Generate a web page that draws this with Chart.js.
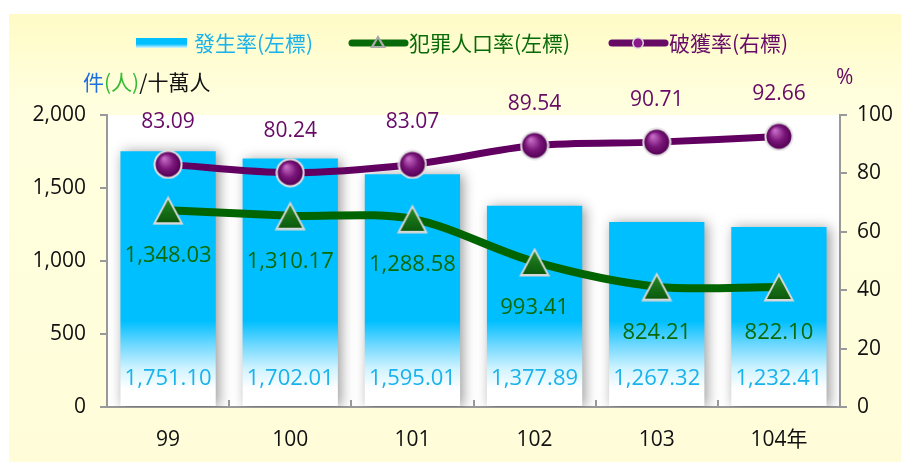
<!DOCTYPE html>
<html>
<head>
<meta charset="utf-8">
<script src="https://cdn.jsdelivr.net/npm/chart.js@4.4.1/dist/chart.umd.min.js"></script>
<style>
  html, body { margin: 0; padding: 0; background: #fff; }
  #wrap { position: relative; width: 901px; height: 462px; }
</style>
</head>
<body>
<div id="wrap"><canvas id="crime-chart" width="901" height="462"></canvas></div>
<script>
  // 資料
  const years = ['99', '100', '101', '102', '103', '104年'];
  const occurrenceRate = [1751.10, 1702.01, 1595.01, 1377.89, 1267.32, 1232.41]; // 發生率(左標)
  const offenderRate = [1348.03, 1310.17, 1288.58, 993.41, 824.21, 822.10];     // 犯罪人口率(左標)
  const clearanceRate = [83.09, 80.24, 83.07, 89.54, 90.71, 92.66];             // 破獲率(右標)
  const leftTicks = [0, 500, 1000, 1500, 2000];
  const rightTicks = [0, 20, 40, 60, 80, 100];

  const FONT = '"Open Sans", "Noto Sans CJK TC", sans-serif';
  const CJK = '"Noto Sans CJK TC", "Open Sans", sans-serif';
  const BLUE_TXT = '#19b2ea';
  const GREEN = '#086a08';
  const PURPLE = '#660a66';

  const fmt = (v) => v.toLocaleString('en-US', { minimumFractionDigits: 2, maximumFractionDigits: 2 });

  // 點的圖樣
  function makeTriangle() {
    const c = document.createElement('canvas');
    c.width = 32; c.height = 30;
    const g = c.getContext('2d');
    g.fillStyle = '#d8d8d8';
    g.beginPath(); g.moveTo(16, 0.5); g.lineTo(31.5, 29.5); g.lineTo(0.5, 29.5); g.closePath(); g.fill();
    const gr = g.createLinearGradient(0, 4, 0, 27);
    gr.addColorStop(0, '#2a8a2a');
    gr.addColorStop(0.55, '#166e16');
    gr.addColorStop(1, '#0d5a0d');
    g.fillStyle = gr;
    g.beginPath(); g.moveTo(16, 4.5); g.lineTo(28, 27); g.lineTo(4, 27); g.closePath(); g.fill();
    return c;
  }

  function makeCircle() {
    const c = document.createElement('canvas');
    c.width = 30; c.height = 30;
    const g = c.getContext('2d');
    g.fillStyle = '#e2e2e2';
    g.beginPath(); g.arc(15, 15, 14.5, 0, Math.PI * 2); g.fill();
    const gr = g.createRadialGradient(11, 9, 1, 15, 15, 13);
    gr.addColorStop(0, '#c46ac4');
    gr.addColorStop(0.55, '#7a167a');
    gr.addColorStop(1, '#520052');
    g.fillStyle = gr;
    g.beginPath(); g.arc(15, 15, 12.5, 0, Math.PI * 2); g.fill();
    return c;
  }

  function barGradient(ctx) {
    const area = ctx.chart.chartArea;
    if (!area) return '#00bfff';
    const g = ctx.chart.ctx.createLinearGradient(0, area.bottom - 18, 0, area.bottom - 86);
    g.addColorStop(0, '#ffffff');
    g.addColorStop(0.3, '#cff3ff');
    g.addColorStop(0.65, '#6fd8ff');
    g.addColorStop(1, '#00bfff');
    return g;
  }

  // 背景
  const bgPlugin = {
    id: 'bg',
    beforeDraw(chart) {
      const { ctx, chartArea: a } = chart;
      ctx.save();
      const g = ctx.createLinearGradient(0, 14, 0, 462);
      g.addColorStop(0, '#fffbc6');
      g.addColorStop(0.2, '#ffffdf');
      g.addColorStop(1, '#fffdd9');
      ctx.fillStyle = g;
      ctx.fillRect(9, 14, 892, 448);
      ctx.fillStyle = '#ffffff';
      ctx.fillRect(a.left, a.top, a.right - a.left, a.bottom - a.top);
      ctx.restore();
    },
    beforeDatasetDraw(chart, args) {
      if (args.index === 0) {
        const ctx = chart.ctx;
        ctx.save();
        ctx.shadowColor = 'rgba(0,0,0,0.4)';
        ctx.shadowBlur = 12;
        ctx.shadowOffsetX = 3;
        ctx.shadowOffsetY = 1;
      }
    },
    afterDatasetDraw(chart, args) {
      if (args.index === 0) chart.ctx.restore();
    },
  };

  // 標籤、圖例
  const labelPlugin = {
    id: 'labels',
    afterDraw(chart) {
      const { ctx, chartArea: a } = chart;
      ctx.save();
      ctx.textAlign = 'center';
      ctx.textBaseline = 'middle';

      // 類別間刻度
      const xs = chart.scales.x;
      ctx.strokeStyle = '#999';
      ctx.lineWidth = 2;
      for (let i = 1; i < years.length; i++) {
        const x = Math.round((xs.getPixelForValue(i - 1) + xs.getPixelForValue(i)) / 2);
        ctx.beginPath();
        ctx.moveTo(x, a.bottom);
        ctx.lineTo(x, a.bottom - 7);
        ctx.stroke();
      }

      const bars = chart.getDatasetMeta(0).data;
      const tri = chart.getDatasetMeta(1).data;
      const dots = chart.getDatasetMeta(2).data;

      ctx.font = '22px ' + FONT;
      ctx.fillStyle = BLUE_TXT;
      bars.forEach((b, i) => ctx.fillText(fmt(occurrenceRate[i]), b.x, 379));

      ctx.fillStyle = GREEN;
      tri.forEach((p, i) => ctx.fillText(fmt(offenderRate[i]), p.x, p.y + 46));

      ctx.font = '21px ' + FONT;
      ctx.fillStyle = PURPLE;
      dots.forEach((p, i) => ctx.fillText(fmt(clearanceRate[i]), p.x, p.y - 42));

      // 圖例
      const ly = 43;
      const lg = ctx.createLinearGradient(0, ly - 5, 0, ly + 5);
      lg.addColorStop(0, '#00bfff');
      lg.addColorStop(0.6, '#00bfff');
      lg.addColorStop(1, '#dff6ff');
      ctx.fillStyle = lg;
      ctx.fillRect(136, ly - 5, 51, 10);
      ctx.textAlign = 'left';
      ctx.font = '21px ' + CJK;
      ctx.fillStyle = BLUE_TXT;
      ctx.fillText('發生率(左標)', 194, ly);

      ctx.lineCap = 'round';
      ctx.lineWidth = 7;
      ctx.strokeStyle = GREEN;
      ctx.beginPath(); ctx.moveTo(352, ly); ctx.lineTo(405, ly); ctx.stroke();
      ctx.fillStyle = '#aaa';
      ctx.beginPath(); ctx.moveTo(378, ly - 8); ctx.lineTo(386, ly + 5); ctx.lineTo(370, ly + 5); ctx.closePath(); ctx.fill();
      ctx.fillStyle = GREEN;
      ctx.beginPath(); ctx.moveTo(378, ly - 4); ctx.lineTo(382, ly + 3); ctx.lineTo(374, ly + 3); ctx.closePath(); ctx.fill();
      ctx.fillText('犯罪人口率(左標)', 409, ly);

      ctx.strokeStyle = PURPLE;
      ctx.beginPath(); ctx.moveTo(612, ly); ctx.lineTo(665, ly); ctx.stroke();
      ctx.fillStyle = '#ddd';
      ctx.beginPath(); ctx.arc(638, ly, 6, 0, Math.PI * 2); ctx.fill();
      ctx.fillStyle = '#8a1a8a';
      ctx.beginPath(); ctx.arc(638, ly, 4.5, 0, Math.PI * 2); ctx.fill();
      ctx.fillStyle = PURPLE;
      ctx.fillText('破獲率(右標)', 669, ly);

      // 軸標題
      let tx = 83;
      [['件', '#1f6fe0'], ['(人)', '#33bb33'], ['/十萬人', '#111']].forEach(([t, c]) => {
        ctx.fillStyle = c;
        ctx.fillText(t, tx, 82);
        tx += ctx.measureText(t).width;
      });
      ctx.fillStyle = PURPLE;
      ctx.font = '21px ' + FONT;
      ctx.fillText('%', 836, 78);
      ctx.restore();
    },
  };

  new Chart(document.getElementById('crime-chart'), {
    data: {
      labels: years,
      datasets: [
        {
          type: 'bar',
          label: '發生率(左標)',
          data: occurrenceRate,
          backgroundColor: barGradient,
          borderWidth: 0,
          barPercentage: 0.78,
          categoryPercentage: 1,
          yAxisID: 'y',
          order: 3,
        },
        {
          type: 'line',
          label: '犯罪人口率(左標)',
          data: offenderRate,
          borderColor: '#006400',
          borderWidth: 8,
          tension: 0.3,
          pointStyle: makeTriangle(),
          pointRadius: 15,
          yAxisID: 'y',
          order: 2,
          clip: false,
        },
        {
          type: 'line',
          label: '破獲率(右標)',
          data: clearanceRate,
          borderColor: '#620062',
          borderWidth: 7,
          tension: 0.3,
          pointStyle: makeCircle(),
          pointRadius: 15,
          yAxisID: 'y1',
          order: 1,
          clip: false,
        },
      ],
    },
    options: {
      responsive: false,
      animation: false,
      events: [],
      layout: { padding: { top: 115, left: 0, right: 0, bottom: 0 } },
      plugins: { legend: { display: false }, tooltip: { enabled: false } },
      scales: {
        x: {
          offset: true,
          grid: { display: false, drawTicks: false },
          border: { color: '#999', width: 2 },
          ticks: { color: '#111', font: { family: FONT, size: 21 }, padding: 20 },
          afterFit(s) { s.height = 55; },
        },
        y: {
          position: 'left',
          min: 0,
          max: 2000,
          afterBuildTicks(s) { s.ticks = leftTicks.map((v) => ({ value: v })); },
          grid: { drawOnChartArea: false, tickLength: 7, color: '#999', lineWidth: 2 },
          border: { color: '#999', width: 2 },
          ticks: {
            color: '#111',
            font: { family: FONT, size: 21 },
            padding: 14,
            callback: (v) => v.toLocaleString('en-US'),
          },
          afterFit(s) { s.width = 107; },
        },
        y1: {
          position: 'right',
          min: 0,
          max: 100,
          afterBuildTicks(s) { s.ticks = rightTicks.map((v) => ({ value: v })); },
          grid: { drawOnChartArea: false, tickLength: 7, color: '#999', lineWidth: 2 },
          border: { color: '#999', width: 2 },
          ticks: { color: '#111', font: { family: FONT, size: 21 }, padding: 10 },
          afterFit(s) { s.width = 61; },
        },
      },
    },
    plugins: [bgPlugin, labelPlugin],
  });
</script>
</body>
</html>
